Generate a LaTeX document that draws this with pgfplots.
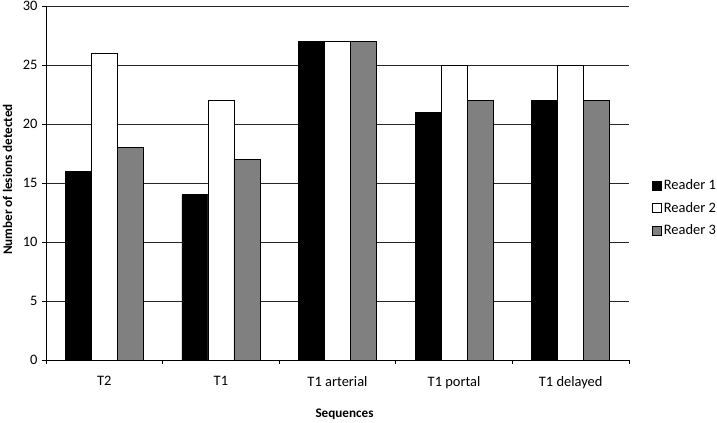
\documentclass[border=0pt]{standalone}
\usepackage{fontspec}
\setmainfont{Carlito}
\usepackage{pgfplots}
\pgfplotsset{compat=1.18}
\begin{document}
\begin{tikzpicture}
\useasboundingbox (-46bp,-63bp) rectangle (671bp,360bp);
\begin{axis}[
  at={(0,0)}, anchor=south west,
  scale only axis, width=583bp, height=354bp,
  ymin=0, ymax=30, ytick={0,5,...,30},
  xmin=-0.5, xmax=4.5,
  xtick={-0.5,0.5,1.5,2.5,3.5,4.5},
  x tick label as interval,
  xticklabels={T2,T1,T1 arterial,T1 portal,T1 delayed},
  axis x line*=bottom, axis y line*=left,
  axis line style={black, line width=0.7bp},
  tick style={black, line width=0.7bp},
  tick align=outside, major tick length=4bp,
  ymajorgrids, grid style={black!85, line width=0.6bp},
  ybar, bar width=26bp,
  /pgf/number format/assume math mode=true,
  tick label style={font=\fontsize{14.5}{17}\selectfont},
  yticklabel style={xshift=-1bp},
  xticklabel style={yshift=-9bp},
  ylabel={\bfseries Number of lesions detected},
  xlabel={\bfseries Sequences},
  label style={font=\fontsize{13.2}{15}\selectfont},
  ylabel style={at={(axis description cs:-0.066,0.51)}, anchor=center, rotate=0},
  xlabel style={at={(axis description cs:0.5,0)}, xshift=7bp, yshift=-54bp, anchor=center},
  legend style={draw=none, fill=none, at={(603bp,152bp)}, anchor=west,
    font=\fontsize{14.5}{17}\selectfont, row sep=7bp,
    legend cell align=left},
  legend image code/.code={\draw[#1, line width=0.6bp] (0bp,-4.5bp) rectangle (9bp,4.5bp);},
]
\addplot[bar shift=-26bp, fill=black, draw=black, line width=0.6bp] coordinates {(0,16) (1,14) (2,27) (3,21) (4,22)};
\addplot[bar shift=0bp, fill=white, draw=black, line width=0.6bp] coordinates {(0,26) (1,22) (2,27) (3,25) (4,25)};
\addplot[bar shift=26bp, fill=black!50, draw=black, line width=0.6bp] coordinates {(0,18) (1,17) (2,27) (3,22) (4,22)};
\legend{Reader 1,Reader 2,Reader 3}
\end{axis}
\end{tikzpicture}
\end{document}
